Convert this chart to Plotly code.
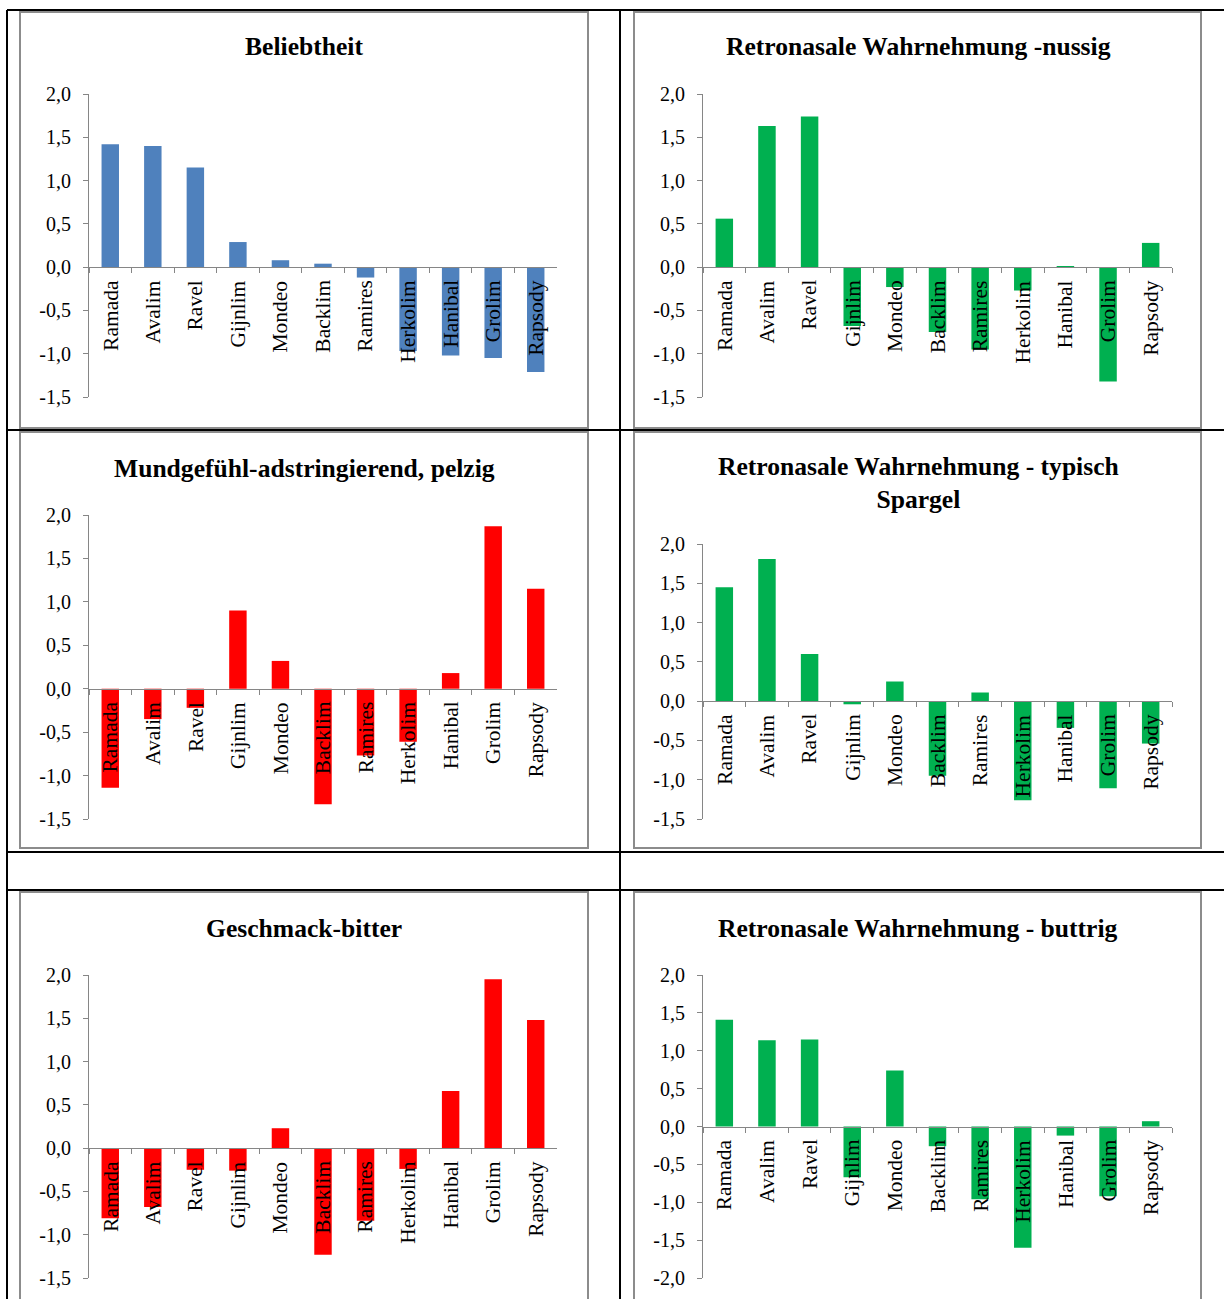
import plotly.graph_objects as go

# ---------------- data ----------------
categories = ["Ramada", "Avalim", "Ravel", "Gijnlim", "Mondeo", "Backlim",
              "Ramires", "Herkolim", "Hanibal", "Grolim", "Rapsody"]

beliebtheit = [1.42, 1.40, 1.15, 0.29, 0.08, 0.04, -0.12, -0.97, -1.02, -1.05, -1.21]
nussig = [0.56, 1.63, 1.74, -0.68, -0.23, -0.75, -0.95, -0.27, 0.01, -1.32, 0.28]
mundgefuehl = [-1.14, -0.35, -0.22, 0.90, 0.32, -1.33, -0.77, -0.61, 0.18, 1.87, 1.15]
spargel = [1.45, 1.81, 0.60, -0.04, 0.25, -0.95, 0.11, -1.26, -0.34, -1.11, -0.54]
bitter = [-0.81, -0.68, -0.25, -0.26, 0.23, -1.23, -0.84, -0.24, 0.66, 1.95, 1.48]
buttrig = [1.41, 1.14, 1.15, -0.67, 0.74, -0.26, -0.96, -1.60, -0.12, -0.92, 0.07]

titles = ["Beliebtheit",
          "Retronasale Wahrnehmung -nussig",
          "Mundgefühl-adstringierend, pelzig",
          "Retronasale Wahrnehmung - typisch<br>Spargel",
          "Geschmack-bitter",
          "Retronasale Wahrnehmung - buttrig"]
series = [beliebtheit, nussig, mundgefuehl, spargel, bitter, buttrig]

BLUE, GREEN, RED = "#4F81BD", "#00B050", "#FF0000"
colors = [BLUE, GREEN, RED, GREEN, RED, GREEN]

y_ranges = [(-1.5, 2.0), (-1.5, 2.0), (-1.5, 2.0), (-1.5, 2.0), (-1.5, 2.0), (-2.0, 2.0)]

# ---------------- layout (pixels) ----------------
W, H = 1224, 1299
# plot area: x0, x1, y_top, y_bottom
plot_px = [
    (89, 557, 94, 397),
    (703, 1172, 94, 397),
    (89, 557, 515, 819),
    (703, 1172, 544, 819),
    (89, 557, 975, 1278),
    (703, 1172, 975, 1278),
]
# chart border boxes
box_px = [
    (20, 12, 588, 428), (634, 12, 1201, 428),
    (20, 432, 588, 848), (634, 432, 1201, 848),
    (20, 892, 588, 1310), (634, 892, 1201, 1310),
]
title_px = [(304, 47), (918, 47), (304, 468), (918, 483), (304, 928), (918, 928)]

SERIF = "Liberation Serif, Times New Roman, serif"
AXIS_GRAY = "#868686"


def px(x):
    return x / W


def py(y):
    return 1 - y / H


def fmt(v):
    return f"{v:.1f}".replace(".", ",")


fig = go.Figure()
layout = dict(
    template="none",
    width=W, height=H, autosize=False,
    margin=dict(l=0, r=0, t=0, b=0, pad=0, autoexpand=False),
    paper_bgcolor="white", plot_bgcolor="rgba(0,0,0,0)",
    showlegend=False, bargap=0.59,
    font=dict(family=SERIF, color="black"),
)
annotations = []
shapes = []

for i in range(6):
    n = i + 1
    xa = "x" if n == 1 else f"x{n}"
    ya = "y" if n == 1 else f"y{n}"
    x0, x1, yt, yb = plot_px[i]
    lo, hi = y_ranges[i]
    fig.add_trace(go.Bar(x=categories, y=series[i], marker=dict(color=colors[i], line=dict(width=0)),
                         xaxis=xa, yaxis=ya, hoverinfo="x+y"))
    dom_y = [py(yb), py(yt)]
    zero_pos = dom_y[0] + (0 - lo) / (hi - lo) * (dom_y[1] - dom_y[0])
    ticks = []
    v = lo
    while v <= hi + 1e-9:
        ticks.append(round(v, 2))
        v += 0.5
    layout["xaxis" if n == 1 else f"xaxis{n}"] = dict(
        domain=[px(x0), px(x1)], anchor="free", position=zero_pos,
        showline=True, linecolor=AXIS_GRAY, linewidth=1.2,
        ticks="outside", tickson="boundaries", ticklen=5, tickcolor=AXIS_GRAY,
        showticklabels=False, showgrid=False, zeroline=False, fixedrange=True,
        automargin=False,
    )
    layout["yaxis" if n == 1 else f"yaxis{n}"] = dict(
        domain=dom_y, anchor=xa, range=[lo, hi],
        showline=True, linecolor=AXIS_GRAY, linewidth=1.2,
        ticks="outside", ticklen=5, tickcolor=AXIS_GRAY,
        tickvals=ticks, ticktext=[fmt(t) for t in ticks],
        tickfont=dict(family=SERIF, size=20, color="black"),
        ticklabelstandoff=8,
        showgrid=False, zeroline=False, fixedrange=True,
        automargin=False,
    )
    for c in categories:
        annotations.append(dict(
            x=c, y=0, xref=xa, yref=ya, text=c, showarrow=False,
            textangle=-90, xanchor="center", yanchor="top", yshift=-11,
            font=dict(family=SERIF, size=21.5, color="black"),
        ))
    tx, ty = title_px[i]
    annotations.append(dict(
        x=px(tx), y=py(ty), xref="paper", yref="paper",
        text=f"<b>{titles[i]}</b>", showarrow=False,
        xanchor="center", yanchor="middle",
        font=dict(family=SERIF, size=25.6, color="black"),
    ))
    bx0, by0, bx1, by1 = box_px[i]
    shapes.append(dict(type="rect", xref="paper", yref="paper",
                       x0=px(bx0), x1=px(bx1), y0=py(by1), y1=py(by0),
                       line=dict(color="#8c8c8c", width=2), layer="below"))

# table lines
for yline in [10, 430, 852, 890]:
    shapes.append(dict(type="line", xref="paper", yref="paper",
                       x0=px(7), x1=1, y0=py(yline), y1=py(yline),
                       line=dict(color="black", width=2)))
for xline in [7, 620]:
    shapes.append(dict(type="line", xref="paper", yref="paper",
                       x0=px(xline), x1=px(xline), y0=0, y1=py(10),
                       line=dict(color="black", width=2)))

layout["annotations"] = annotations
layout["shapes"] = shapes
fig.update_layout(**layout)
fig.write_html("out.html")
